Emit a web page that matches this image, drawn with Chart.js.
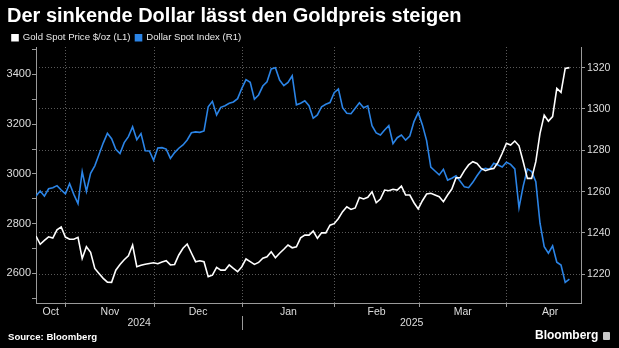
<!DOCTYPE html>
<html>
<head>
<meta charset="utf-8">
<script src="https://cdn.jsdelivr.net/npm/chart.js@4.4.1/dist/chart.umd.min.js"></script>
<style>
  html, body { margin: 0; padding: 0; background: #000; }
  #wrap { position: relative; width: 619px; height: 348px; background: #000; font-family: 'Liberation Sans', Arial, sans-serif; }
  #chart { position: absolute; left: 0; top: 0; }
  .src { position: absolute; left: 8px; top: 332px; color: #fff; font-weight: bold; font-size: 9.6px; line-height: 1; }
  .logo { position: absolute; left: 535px; top: 329px; color: #fff; font-weight: bold; font-size: 12px; line-height: 1; white-space: nowrap; }
  .logo i { display: inline-block; width: 7px; height: 8px; margin-left: 5px; background: #c8c8c8; border-radius: 1px; vertical-align: -1px; }
</style>
</head>
<body>
<div id="wrap">
  <canvas id="chart" width="619" height="348"></canvas>
  <div class="src">Source: Bloomberg</div>
  <div class="logo">Bloomberg<i></i></div>
</div>
<script>
'use strict';

// ─── Data : one value per trading day, 22 Oct 2024 → 22 Apr 2025 ─────
const gold = [
  2750, 2717, 2733, 2747, 2742, 2775, 2787, 2746, 2737, 2737,
  2745, 2660, 2707, 2685, 2620, 2600, 2580, 2565, 2564, 2613,
  2636, 2655, 2671, 2714, 2627, 2633, 2637, 2640, 2643, 2639,
  2646, 2651, 2634, 2636, 2674, 2701, 2718, 2682, 2647, 2651,
  2647, 2587, 2593, 2624, 2613, 2613, 2634, 2620, 2607, 2627,
  2658, 2647, 2636, 2644, 2661, 2667, 2687, 2663, 2681, 2697,
  2714, 2703, 2707, 2743, 2754, 2754, 2770, 2741, 2763, 2763,
  2794, 2800, 2821, 2848, 2868, 2857, 2863, 2905, 2899, 2906,
  2928, 2884, 2899, 2935, 2932, 2938, 2935, 2951, 2915, 2915,
  2884, 2859, 2892, 2919, 2922, 2915, 2908, 2888, 2915, 2939,
  2984, 2985, 3013, 3036, 3049, 3042, 3022, 3013, 3019, 3022,
  3046, 3083, 3123, 3116, 3132, 3113, 3049, 2982, 2982, 3049,
  3163, 3236, 3212, 3230, 3344, 3328, 3424, 3427,
];

const dollar = [
  1257.9, 1260.3, 1257.8, 1261.4, 1261.9, 1262.9, 1260.8, 1258.9, 1263.9, 1258.7,
  1254.2, 1269.7, 1260.2, 1268.9, 1272.5, 1278.0, 1283.5, 1288.2, 1285.6, 1280.5,
  1278.4, 1283.7, 1286.6, 1291.4, 1285.1, 1288.1, 1279.8, 1279.7, 1275.2, 1281.1,
  1281.3, 1280.6, 1276.1, 1278.9, 1281.0, 1282.6, 1285.0, 1288.5, 1288.9, 1288.7,
  1289.4, 1301.1, 1303.7, 1297.1, 1300.8, 1301.6, 1302.8, 1303.4, 1305.0, 1310.0,
  1314.2, 1312.9, 1304.7, 1306.8, 1311.1, 1313.2, 1319.4, 1320.0, 1314.0, 1311.3,
  1312.9, 1316.1, 1302.0, 1302.8, 1304.0, 1301.6, 1295.5, 1297.1, 1301.1, 1302.3,
  1303.1, 1307.9, 1309.7, 1300.6, 1297.9, 1297.7, 1300.3, 1303.0, 1300.6, 1301.5,
  1291.9, 1288.4, 1287.4, 1289.8, 1291.9, 1283.2, 1286.1, 1287.4, 1284.9, 1286.9,
  1293.9, 1298.2, 1292.3, 1284.7, 1271.9, 1270.0, 1268.1, 1270.8, 1265.6, 1266.5,
  1267.7, 1265.0, 1262.3, 1261.9, 1264.5, 1267.7, 1270.5, 1271.3, 1270.8, 1273.7,
  1272.9, 1271.9, 1274.2, 1273.2, 1271.0, 1252.2, 1262.7, 1271.0, 1269.7, 1264.8,
  1244.7, 1233.4, 1230.2, 1233.8, 1225.8, 1224.5, 1216.1, 1217.7,
];

// x axis, in trading-day units
const monthEdges = [7.07, 28.17, 49.12, 71.02, 91.19, 111.98];
const monthNames = ['Oct', 'Nov', 'Dec', 'Jan', 'Feb', 'Mar', 'Apr'];
const monthMids  = [3.5, 17.6, 38.6, 60.1, 81.1, 101.6, 122.4];
const yearNames  = ['2024', '2025'];
const yearMids   = [24.56, 89.44];
const yearSplit  = 49.12;
const xMax       = 129.76;

const FONT   = "'Liberation Sans', Arial, sans-serif";
const AXIS   = '#9a9a9a';
const GRID   = '#5a5a5a';
const LABEL  = '#dedede';
const WHITE  = '#ffffff';
const BLUE   = '#2b84e6';

// legend sits closer to the plot than Chart.js allows by default
const legendTrim = {
  id: 'legendTrim',
  afterInit(chart) {
    const lg = chart.legend;
    const fit = lg.fit.bind(lg);
    lg.fit = () => { fit(); lg.height -= 5.6; };
  },
};

// short divider between the two year labels
const yearDivider = {
  id: 'yearDivider',
  afterDraw(chart) {
    const x = Math.round(chart.scales.x.getPixelForValue(yearSplit)) + 0.5;
    const ctx = chart.ctx;
    ctx.save();
    ctx.strokeStyle = AXIS;
    ctx.lineWidth = 1;
    ctx.beginPath();
    ctx.moveTo(x, 316);
    ctx.lineTo(x, 330);
    ctx.stroke();
    ctx.restore();
  },
};

const labelAxis = (values, names) => ({
  type: 'linear',
  position: 'bottom',
  min: 0,
  max: xMax,
  grid: { display: false, drawTicks: false },
  border: { display: false },
  afterBuildTicks: s => { s.ticks = values.map(v => ({ value: v })); },
  ticks: {
    autoSkip: false,
    maxRotation: 0,
    padding: 0,
    color: LABEL,
    font: { family: FONT, size: 10.5, lineHeight: 1 },
    callback: (v, i) => names[i],
  },
});

new Chart(document.getElementById('chart').getContext('2d'), {
  type: 'line',
  data: {
    datasets: [
      {
        label: 'Gold Spot Price $/oz (L1)',
        data: gold.map((v, i) => ({ x: i, y: v })),
        yAxisID: 'y',
        xAxisID: 'x',
        borderColor: WHITE,
        backgroundColor: WHITE,
        borderWidth: 1.6,
        pointRadius: 0,
        tension: 0,
      },
      {
        label: 'Dollar Spot Index (R1)',
        data: dollar.map((v, i) => ({ x: i, y: v })),
        yAxisID: 'y1',
        xAxisID: 'x',
        borderColor: BLUE,
        backgroundColor: BLUE,
        borderWidth: 1.6,
        pointRadius: 0,
        tension: 0,
      },
    ],
  },
  options: {
    responsive: false,
    animation: false,
    layout: { padding: { left: 7, right: 0, top: 0, bottom: 20 } },
    plugins: {
      title: {
        display: true,
        text: 'Der sinkende Dollar lässt den Goldpreis steigen',
        align: 'start',
        color: WHITE,
        font: { family: FONT, size: 20, weight: 'bold', lineHeight: 1.2 },
        padding: { top: 4, bottom: 0 },
      },
      legend: {
        align: 'start',
        labels: {
          color: '#e8e8e8',
          font: { family: FONT, size: 9.6 },
          boxWidth: 6,
          boxHeight: 6,
          padding: 5,
        },
      },
      tooltip: { enabled: false },
    },
    scales: {
      x: {
        type: 'linear',
        position: 'bottom',
        min: 0,
        max: xMax,
        afterBuildTicks: s => { s.ticks = monthEdges.map(v => ({ value: v })); },
        grid: { color: GRID, tickColor: AXIS, tickLength: 4, lineWidth: 1 },
        border: { color: AXIS, dash: [1, 2] },
        ticks: { display: false },
      },
      xm: labelAxis(monthMids, monthNames),
      xy: labelAxis(yearMids, yearNames),
      y: {
        position: 'left',
        min: 2481,
        max: 3510,
        afterFit: s => { s.width = 29; },
        grid: { drawOnChartArea: false, color: AXIS, tickLength: 4 },
        border: { color: AXIS },
        ticks: {
          stepSize: 100,
          includeBounds: false,
          padding: 1,
          color: LABEL,
          font: { family: FONT, size: 11 },
          callback: v => (v % 200 === 0 ? String(v) : ''),
        },
      },
      y1: {
        position: 'right',
        min: 1206.1,
        max: 1330,
        afterFit: s => { s.width = 38; },
        grid: { color: GRID, tickColor: AXIS, tickLength: 4 },
        border: { color: AXIS, dash: [1, 2] },
        ticks: {
          stepSize: 20,
          includeBounds: false,
          padding: 2,
          color: LABEL,
          font: { family: FONT, size: 10.5 },
          callback: v => String(v),
        },
      },
    },
  },
  plugins: [legendTrim, yearDivider],
});
</script>
</body>
</html>
